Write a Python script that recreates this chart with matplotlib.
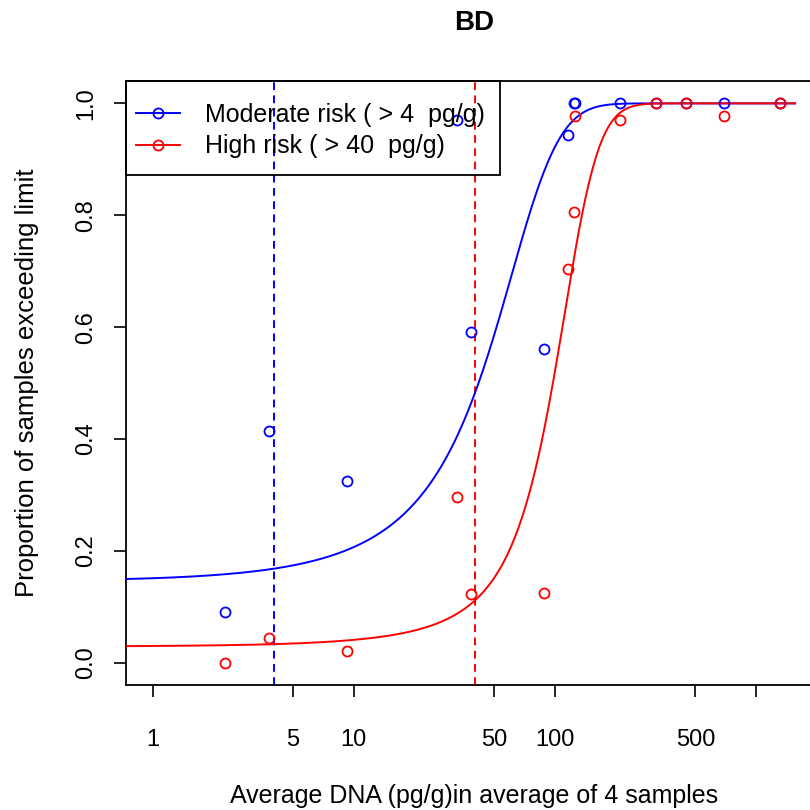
import numpy as np
import matplotlib
matplotlib.use("Agg")
import matplotlib.pyplot as plt
from matplotlib.lines import Line2D
from matplotlib.patches import Rectangle

plt.rcParams['font.family'] = ['Liberation Sans', 'DejaVu Sans']

title = "BD"
x_label = "Average DNA (pg/g)in average of 4 samples"
y_label = "Proportion of samples exceeding limit"
series_names = ["Moderate risk ( > 4  pg/g)", "High risk ( > 40  pg/g)"]
series_colors = ["blue", "red"]
thresholds = [4, 40]

dna = [2.28, 3.78, 9.27, 32.5, 38.4, 88.1, 116.2, 124.1, 126.3, 209.6, 319, 449.5, 697, 1318]
moderate = [0.090, 0.415, 0.325, 0.971, 0.591, 0.561, 0.944, 1.0, 1.0, 1.0, 1.0, 1.0, 1.0, 1.0]
high = [0.0, 0.044, 0.021, 0.297, 0.122, 0.124, 0.703, 0.805, 0.977, 0.971, 1.0, 1.0, 0.977, 1.0]

# fitted logistic curves: p = 1 / (1 + exp(-(b0 + b1 * x)))
moderate_fit = (-1.77, 0.0424)
high_fit = (-3.52, 0.036)
curve_range = (0.738, 1564)

x_ticks = [1, 5, 10, 50, 100, 500, 1000]
x_tick_labels = ["1", "5", "10", "50", "100", "500", ""]
y_ticks = [0.0, 0.2, 0.4, 0.6, 0.8, 1.0]
y_tick_labels = ["0.0", "0.2", "0.4", "0.6", "0.8", "1.0"]

W = H = 810
fig = plt.figure(figsize=(W / 100, H / 100), dpi=100)
ax = fig.add_axes([126 / W, 1 - 685 / H, (822 - 126) / W, (685 - 81) / H])
ax.set_xscale('log')
ax.set_xlim(0.738, 2128)
ax.set_ylim(-0.04, 1.04)

xs = np.logspace(np.log10(curve_range[0]), np.log10(curve_range[1]), 400)
fits = [moderate_fit, high_fit]
vals = [moderate, high]
for fit, col in zip(fits, series_colors):
    b0, b1 = fit
    ax.plot(xs, 1 / (1 + np.exp(-(b0 + b1 * xs))), color=col, lw=1.4, zorder=3)
for v, col in zip(vals, series_colors):
    ax.plot(dna, v, linestyle='none', marker='o', mfc='none', mec=col,
            ms=7.2, mew=1.3, zorder=4)
for t, col in zip(thresholds, series_colors):
    ax.axvline(t, color=col, lw=1.4, linestyle=(0, (4.0, 2.8)), zorder=2)

ax.set_xticks(x_ticks)
ax.set_xticklabels(x_tick_labels)
ax.xaxis.set_minor_locator(matplotlib.ticker.NullLocator())
ax.set_yticks(y_ticks)
ax.set_yticklabels(y_tick_labels, rotation=90, va='center')
ax.tick_params(axis='both', direction='out', length=8.6, width=1.2, labelsize=17, colors='black')
ax.tick_params(axis='x', pad=23)
ax.tick_params(axis='y', pad=12)

for s in ax.spines.values():
    s.set_linewidth(1.3)
    s.set_color('black')

ax.set_xlabel(x_label, fontsize=18, labelpad=24)
ax.set_ylabel(y_label, fontsize=18.5, labelpad=26)
ax.set_title(title, fontsize=20, fontweight='bold', pad=37)

# legend box (transparent, black border)
fig.patches.append(Rectangle((126 / W, 1 - 175 / H), (500 - 126) / W, (175 - 81) / H,
                             transform=fig.transFigure, facecolor='none',
                             edgecolor='black', lw=1.3, zorder=5))
handles = [Line2D([], [], color=c, lw=1.4, marker='o', mfc='none', mec=c, ms=7.2, mew=1.3)
           for c in series_colors]
leg = ax.legend(handles, series_names, loc='upper left',
                bbox_to_anchor=(126 / W, 1 - 93 / H), bbox_transform=fig.transFigure,
                borderaxespad=0, fontsize=18, frameon=False,
                handlelength=1.75, handletextpad=1.0, borderpad=0.4, labelspacing=0.3)

fig.savefig('out.png', dpi=100)
